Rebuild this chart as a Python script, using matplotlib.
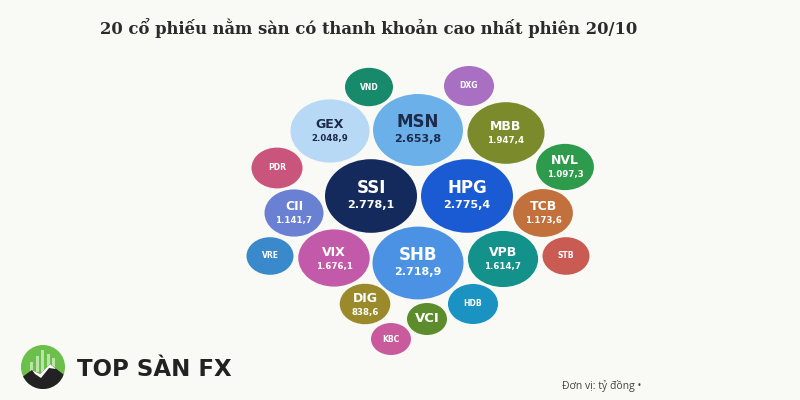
import numpy as np
import matplotlib
matplotlib.use("Agg")
import matplotlib.pyplot as plt
from matplotlib.patches import Ellipse, Circle, Rectangle, Polygon

# giá trị thanh khoản (tỷ đồng); các mã không ghi số là ước lượng theo kích thước bong bóng
tickers = ["VND", "DXG", "GEX", "MSN", "MBB", "PDR", "NVL", "SSI", "HPG", "CII",
           "TCB", "VRE", "VIX", "SHB", "VPB", "STB", "DIG", "HDB", "VCI", "KBC"]
values = [756, 821, 2048.9, 2653.8, 1947.4, 854, 1097.3, 2778.1, 2775.4, 1141.7,
          1173.6, 725, 1676.1, 2718.9, 1614.7, 725, 838.6, 821, 525, 525]
shown = [False, False, True, True, True, False, True, True, True, True,
         True, False, True, True, True, False, True, False, False, False]
colors = ["#178a6c", "#a86fc2", "#b8d9f5", "#6cb0ea", "#7b8b2b", "#c9547c", "#2e9a4c",
          "#142a5c", "#1a5ad2", "#6a80d2", "#c2713c", "#3a8acb", "#c25aa9", "#4b92e4",
          "#13918b", "#c95b52", "#9a8a2c", "#1a92c2", "#5c8c2c", "#c95b9c"]

# bố cục bong bóng (tâm, pixel)
centers = [(369, 87), (469, 86), (330, 131), (418, 130), (506, 133), (277, 168),
           (565, 167), (371, 196), (467, 196), (294, 213), (543, 213), (270, 256),
           (334, 258), (418, 263), (503, 259), (566, 256), (365, 304), (473, 304),
           (427, 319), (391, 339)]
big = ["SSI", "HPG", "MSN", "SHB"]
dark_text = ["GEX", "MSN"]


def vn_fmt(v):
    s = f"{v:,.1f}"
    return s.replace(",", "X").replace(".", ",").replace("X", ".")


fig = plt.figure(figsize=(8, 4), dpi=100)
bg = "#f9f9f5"
fig.patch.set_facecolor(bg)
ax = fig.add_axes([0, 0, 1, 1])
ax.set_xlim(0, 800)
ax.set_ylim(400, 0)
ax.set_facecolor(bg)
ax.axis("off")

for t, v, sh, c, (cx, cy) in zip(tickers, values, shown, colors, centers):
    w = 92 * np.sqrt(v / 2778.1)
    ax.add_patch(Ellipse((cx, cy), w, w * 0.8, facecolor=c, edgecolor="none"))
    tc = "#1d2b4a" if t in dark_text else "white"
    if sh:
        if t in big:
            fs1, fs2, d1, d2 = 12, 8, -8, 9
        else:
            fs1, fs2, d1, d2 = 9, 6.2, -6, 8
        ax.text(cx, cy + d1, t, color=tc, fontsize=fs1, fontweight="bold",
                ha="center", va="center")
        ax.text(cx, cy + d2, vn_fmt(v), color=tc, fontsize=fs2, fontweight="bold",
                ha="center", va="center")
    else:
        fs = 9.5 if t == "VCI" else 5.5
        ax.text(cx, cy, t, color=tc, fontsize=fs, fontweight="bold",
                ha="center", va="center")

fig.text(100 / 800, 1 - 28 / 400, "20 cổ phiếu nằm sàn có thanh khoản cao nhất phiên 20/10",
         family="DejaVu Serif", fontweight="bold", fontsize=11.8, color="#2b2b2b",
         ha="left", va="center")

fig.text(562 / 800, 1 - 386 / 400, "Đơn vị: tỷ đồng •", family="Open Sans",
         fontsize=7.5, color="#444444", ha="left", va="center")

# logo
logo = Circle((43, 367), 22, facecolor="#6cbf4a", edgecolor="none")
ax.add_patch(logo)
for i, hgt in enumerate([10, 16, 22, 18, 14]):
    r = Rectangle((30 + i * 5.5, 372 - hgt), 3.2, hgt, facecolor="white", alpha=0.55,
                  edgecolor="none")
    ax.add_patch(r)
    r.set_clip_path(logo)
m = Polygon([(18, 392), (18, 380), (32, 370), (40, 374), (50, 364), (68, 378), (68, 392)],
            closed=True, facecolor="#222222", edgecolor="none")
ax.add_patch(m)
m.set_clip_path(logo)
s = Polygon([(32, 370), (40, 374), (50, 364), (56, 369), (49, 368), (41, 378), (35, 374)],
            closed=True, facecolor="white", edgecolor="none")
ax.add_patch(s)
s.set_clip_path(logo)
ax.text(77, 369, "TOP SÀN FX", fontsize=16.5, fontweight="heavy", color="#222222",
        ha="left", va="center")

fig.savefig("out.png", dpi=100, facecolor=bg)
